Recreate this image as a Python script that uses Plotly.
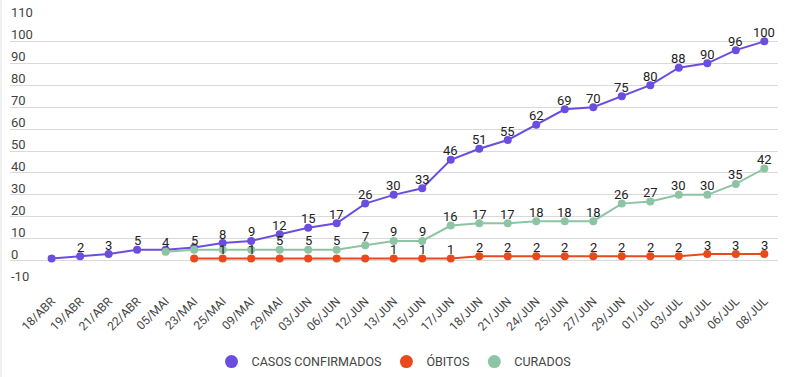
import plotly.graph_objects as go

categorias = ["18/ABR", "19/ABR", "21/ABR", "22/ABR", "05/MAI", "23/MAI", "25/MAI", "09/MAI",
              "29/MAI", "03/JUN", "06/JUN", "12/JUN", "13/JUN", "15/JUN", "17/JUN", "18/JUN",
              "21/JUN", "24/JUN", "25/JUN", "27/JUN", "29/JUN", "01/JUL", "03/JUL", "04/JUL",
              "06/JUL", "08/JUL"]

confirmados = [1, 2, 3, 5, 5, 6, 8, 9, 12, 15, 17, 26, 30, 33, 46, 51, 55, 62, 69, 70, 75, 80,
               88, 90, 96, 100]
obitos = [None, None, None, None, None, 1, 1, 1, 1, 1, 1, 1, 1, 1, 1, 2, 2, 2, 2, 2, 2, 2, 2,
          3, 3, 3]
curados = [None, None, None, None, 4, 5, 5, 5, 5, 5, 5, 7, 9, 9, 16, 17, 17, 18, 18, 18, 26,
           27, 30, 30, 35, 42]

y_ticks = [-10, 0, 10, 20, 30, 40, 50, 60, 70, 80, 90, 100, 110]

# indices whose value labels are hidden (overlapping labels are dropped in the original)
ocultos_confirmados = [0, 4, 5]
ocultos_obitos = [5, 8, 9, 10, 11]
ocultos_curados = [6, 7]

COR_CONF = "#6b4ee0"
COR_OBIT = "#e84a1e"
COR_CUR = "#8dc4a4"
FONT = "Roboto"

fig = go.Figure()

series = [
    ("CASOS CONFIRMADOS", confirmados, ocultos_confirmados, COR_CONF, 1),
    ("CURADOS", curados, ocultos_curados, COR_CUR, 3),
    ("ÓBITOS", obitos, ocultos_obitos, COR_OBIT, 2),
]

annotations = []
for nome, vals, ocultos, cor, rank in series:
    fig.add_trace(go.Scatter(
        x=categorias, y=vals, name=nome, mode="lines+markers",
        line=dict(color=cor, width=2),
        marker=dict(color=cor, size=8),
        showlegend=False, cliponaxis=False, hoverinfo="x+y+name",
    ))
    for i, (c, v) in enumerate(zip(categorias, vals)):
        if v is None or i in ocultos:
            continue
        annotations.append(dict(
            x=c, y=v, xref="x", yref="y", text=str(v), showarrow=False,
            yanchor="middle", xanchor="center", yshift=9,
            font=dict(family=FONT, size=13, color="#222222"),
        ))

for nome, vals, ocultos, cor, rank in series:
    fig.add_trace(go.Scatter(
        x=[None], y=[None], name=nome, mode="markers",
        marker=dict(color=cor, size=13), legendrank=rank, showlegend=True,
    ))

for v in y_ticks:
    annotations.append(dict(
        x=0, xref="paper", xanchor="left", y=v, yref="y", yanchor="bottom",
        text=str(v), showarrow=False, font=dict(family=FONT, size=13, color="#444444"),
        xshift=-1, yshift=-3,
    ))

fig.update_layout(
    width=785, height=377,
    margin=dict(l=10, r=7, t=19, b=94),
    paper_bgcolor="white", plot_bgcolor="white",
    font=dict(family=FONT, size=12, color="#444444"),
    legend=dict(orientation="h", x=0.5, xanchor="center", yref="container", y=0.04,
                yanchor="middle",
                font=dict(family=FONT, size=12.5, color="#444444"), traceorder="normal"),
    xaxis=dict(type="category", range=[-1.46, 25.48], tickangle=-45, showgrid=False,
               zeroline=False, showline=False, ticks="", automargin=False,
               ticklabelstandoff=8,
               tickfont=dict(family=FONT, size=12, color="#444444")),
    yaxis=dict(range=[-10.2, 110.2], tickvals=y_ticks, showticklabels=False,
               showgrid=True, gridcolor="#d9d9d9", gridwidth=1, zeroline=False,
               showline=False, ticks="", automargin=False),
    annotations=annotations,
    shapes=[dict(type="line", xref="paper", yref="paper",
                 x0=-9 / 768, x1=-9 / 768, y0=-282 / 263.4, y1=1 + 19 / 263.4,
                 line=dict(color="#e0e0e0", width=1))],
)

fig.write_html("out.html", config={"displayModeBar": False},
               post_script="document.body.style.margin='0';")
